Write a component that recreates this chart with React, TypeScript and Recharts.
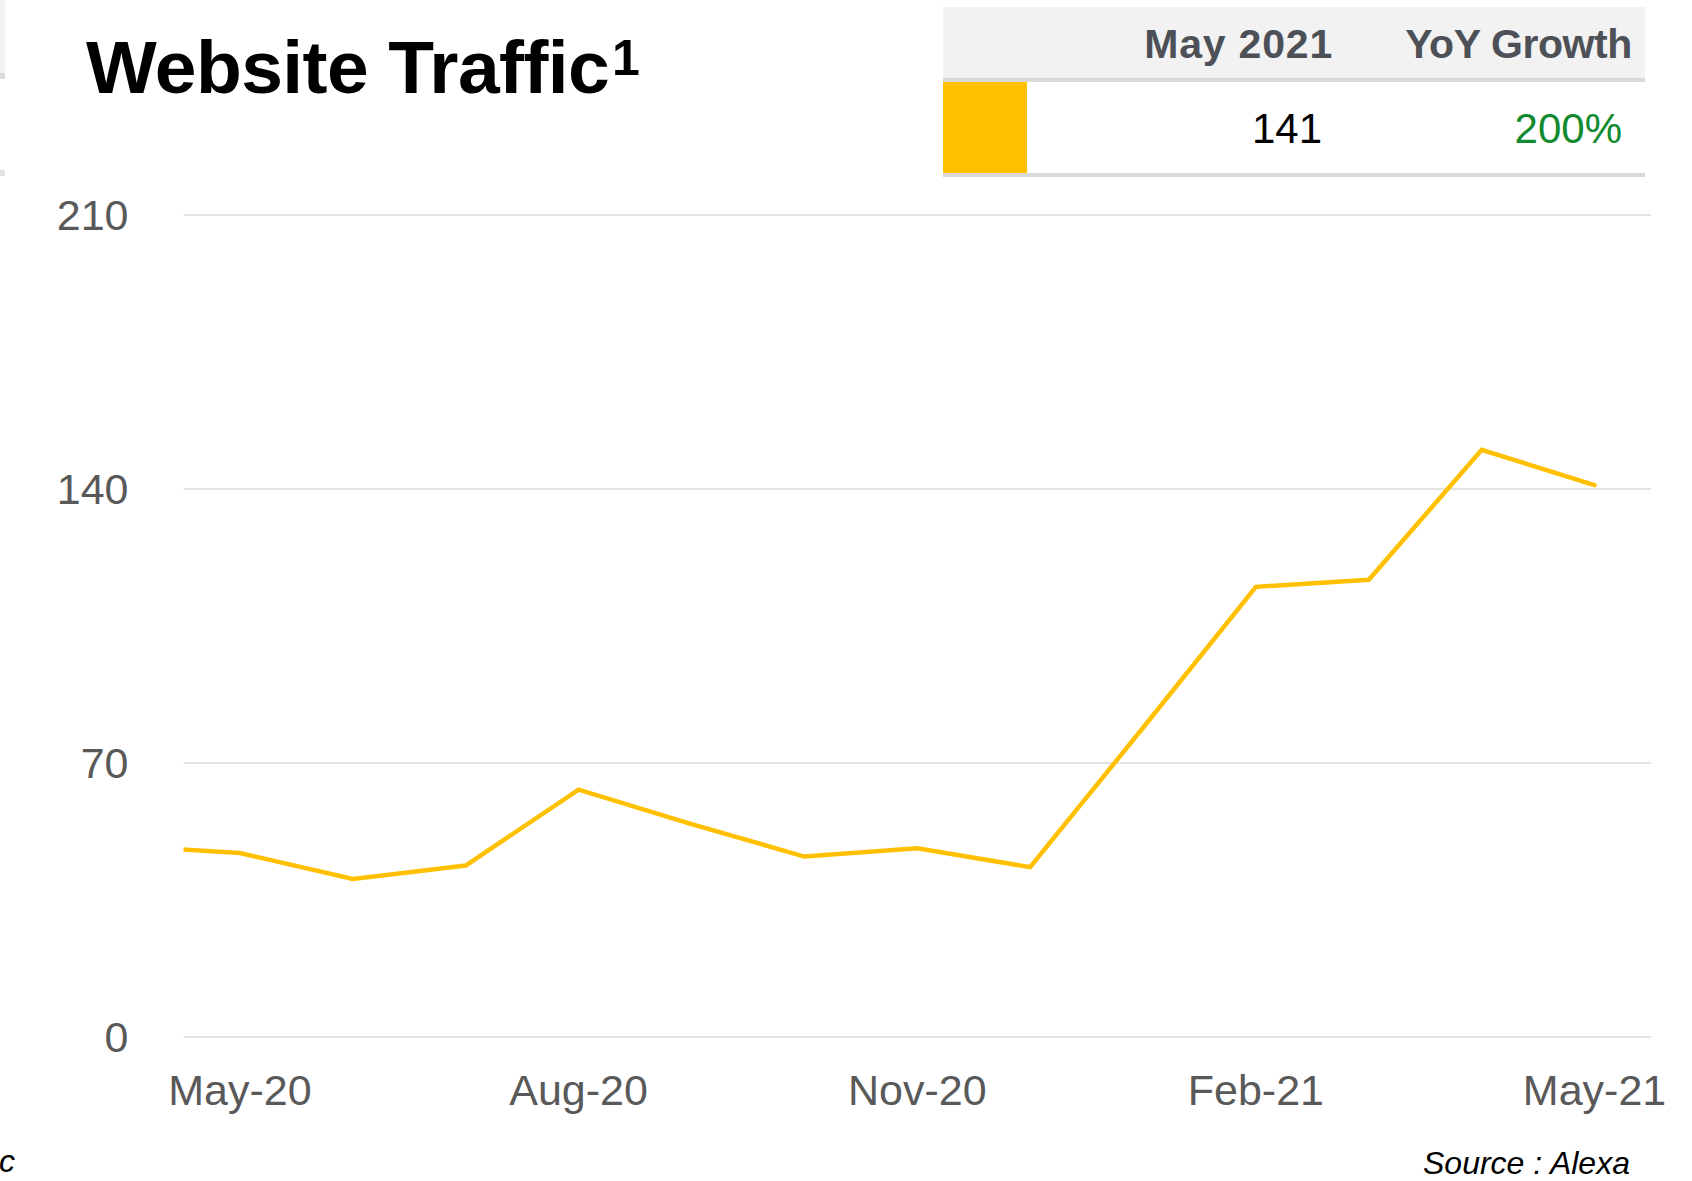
import React from 'react';
import { LineChart, Line, XAxis, YAxis, CartesianGrid } from 'recharts';

// monthly traffic index, Apr-20 .. May-21 (Apr-20 sits left of the plot and gets clipped)
const monthIndex = [-1, 0, 1, 2, 3, 4, 5, 6, 7, 8, 9, 10, 11, 12];
const monthNames = ['Apr-20', 'May-20', 'Jun-20', 'Jul-20', 'Aug-20', 'Sep-20', 'Oct-20', 'Nov-20', 'Dec-20', 'Jan-21', 'Feb-21', 'Mar-21', 'Apr-21', 'May-21'];
const traffic = [48.8, 47.0, 40.4, 43.8, 63.2, 54.4, 46.1, 48.2, 43.4, 79.0, 115.0, 116.8, 150.0, 141.0];

const xTicks = [0, 3, 6, 9, 12];
const yTicks = [0, 70, 140, 210];

const tableHeaders = ['May 2021', 'YoY Growth'];
const tableValues = ['141', '200%'];

const data = monthIndex.map((idx, i) => ({ idx, month: monthNames[i], value: traffic[i] }));

const FONT = '"Liberation Sans", Arial, sans-serif';
const YELLOW = '#FFC000';

export default function App() {
  const monthLabel = (v: number) => monthNames[monthIndex.indexOf(v)] ?? '';

  return (
    <div style={{ position: 'absolute', left: 0, top: 0, width: 1692, height: 1181, background: '#fff', fontFamily: FONT, overflow: 'hidden' }}>
      {/* bits of the neighbouring panel on the left edge */}
      <div style={{ position: 'absolute', left: 0, top: 0, width: 5, height: 73, background: '#f2f2f2' }} />
      <div style={{ position: 'absolute', left: 0, top: 73, width: 5, height: 6, background: '#dcdcdc' }} />
      <div style={{ position: 'absolute', left: 0, top: 170, width: 5, height: 6, background: '#e2e2e2' }} />

      <div style={{ position: 'absolute', left: 86, top: 30, fontSize: 75, fontWeight: 700, lineHeight: 1, letterSpacing: -0.6, color: '#000', whiteSpace: 'nowrap' }}>
        Website Traffic
        <span style={{ fontSize: 50, verticalAlign: 'top', position: 'relative', top: 3, marginLeft: 3 }}>1</span>
      </div>

      {/* summary table */}
      <div style={{ position: 'absolute', left: 943, top: 7, width: 702, height: 71, background: '#f2f2f2' }} />
      <div style={{ position: 'absolute', left: 943, top: 78, width: 702, height: 4, background: '#d9d9d9' }} />
      <div style={{ position: 'absolute', left: 943, top: 82, width: 84, height: 91, background: YELLOW }} />
      <div style={{ position: 'absolute', left: 943, top: 173, width: 702, height: 4, background: '#d9d9d9' }} />
      <div style={{ position: 'absolute', right: 1692 - 1333, top: 24, fontSize: 41, fontWeight: 700, lineHeight: 1, letterSpacing: 0.8, color: '#4d5157', whiteSpace: 'nowrap' }}>{tableHeaders[0]}</div>
      <div style={{ position: 'absolute', right: 1692 - 1632, top: 24, fontSize: 41, fontWeight: 700, lineHeight: 1, letterSpacing: -0.4, color: '#4d5157', whiteSpace: 'nowrap' }}>{tableHeaders[1]}</div>
      <div style={{ position: 'absolute', right: 1692 - 1322, top: 108, fontSize: 42, lineHeight: 1, color: '#000', whiteSpace: 'nowrap' }}>{tableValues[0]}</div>
      <div style={{ position: 'absolute', right: 1692 - 1622, top: 108, fontSize: 42, lineHeight: 1, color: '#128a2f', whiteSpace: 'nowrap' }}>{tableValues[1]}</div>

      <div style={{ position: 'absolute', left: 0, top: 0 }}>
        <LineChart width={1692} height={1181} data={data} margin={{ top: 215, right: 41, bottom: 84, left: 0 }}>
          <CartesianGrid vertical={false} stroke="#d9d9d9" strokeWidth={1.5} />
          <XAxis
            dataKey="idx"
            type="number"
            domain={[-0.5, 12.5]}
            allowDataOverflow
            ticks={xTicks}
            tickFormatter={monthLabel}
            axisLine={false}
            tickLine={false}
            tickSize={0}
            tickMargin={37}
            height={60}
            tick={{ fill: '#595959', fontSize: 43, fontFamily: FONT }}
          />
          <YAxis
            domain={[0, 210]}
            ticks={yTicks}
            axisLine={false}
            tickLine={false}
            tickSize={0}
            tickMargin={55}
            width={183.5}
            tick={{ fill: '#595959', fontSize: 43, fontFamily: FONT }}
          />
          <Line type="linear" dataKey="value" stroke={YELLOW} strokeWidth={4.5} strokeLinecap="round" dot={false} isAnimationActive={false} />
        </LineChart>
      </div>

      <div style={{ position: 'absolute', left: -1, top: 1145, fontSize: 32, fontStyle: 'italic', lineHeight: 1, color: '#000' }}>c</div>
      <div style={{ position: 'absolute', left: 1423, top: 1147, fontSize: 32, fontStyle: 'italic', lineHeight: 1, color: '#000', whiteSpace: 'nowrap' }}>Source : Alexa</div>
    </div>
  );
}
